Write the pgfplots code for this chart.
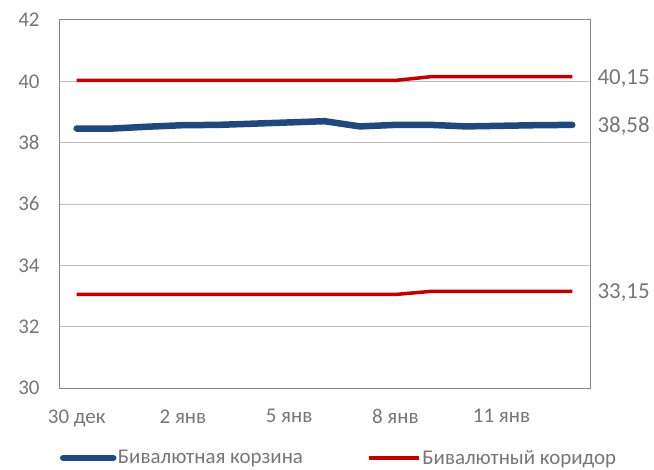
\documentclass[border=0pt]{standalone}
\usepackage{pgfplots}
\pgfplotsset{compat=1.18}
\usepackage{pgfplotstable}
\usepackage{fontspec}
\setmainfont{Carlito}

\definecolor{basket}{RGB}{31,73,125}
\definecolor{corr}{RGB}{192,0,0}
\definecolor{txt}{RGB}{118,118,118}
\definecolor{grd}{RGB}{191,191,191}
\definecolor{frm}{RGB}{134,134,134}

% day index: 0 = 30 dec ... 14 = 13 jan
\pgfplotstableread{
day basket upper lower
0  38.46 40.03 33.05
1  38.46 40.03 33.05
2  38.52 40.03 33.05
3  38.57 40.03 33.05
4  38.58 40.03 33.05
5  38.62 40.03 33.05
6  38.66 40.03 33.05
7  38.70 40.03 33.05
8  38.53 40.03 33.05
9  38.58 40.03 33.05
10 38.58 40.15 33.15
11 38.53 40.15 33.15
12 38.55 40.15 33.15
13 38.57 40.15 33.15
14 38.58 40.15 33.15
}\data

\begin{document}
\begin{tikzpicture}
\useasboundingbox (0,0) rectangle (654bp,470bp);
\begin{axis}[
  at={(59bp,82bp)}, anchor=south west,
  scale only axis, width=531bp, height=368bp,
  xmin=-0.5, xmax=14.5, ymin=30, ymax=42,
  ytick={30,32,...,42},
  xtick={0,3,6,9,12},
  xticklabels={30 дек, 2 янв, 5 янв, 8 янв, 11 янв},
  major tick length=0pt,
  ymajorgrids,
  grid style={grd, line width=1pt},
  axis line style={frm, line width=1pt},
  tick label style={txt, font=\fontsize{21}{24}\selectfont},
  /pgf/number format/assume math mode=true,
  yticklabel style={xshift=-16bp},
  xticklabel style={yshift=-18bp},
  clip=false,
  legend style={at={(0.527,-0.19)}, anchor=center, draw=none, fill=none,
    legend columns=2, font=\fontsize{21}{24}\selectfont, text=txt,
    nodes={inner sep=1.5bp},
    /tikz/every even column/.append style={column sep=63bp}},
  legend image code/.code={\draw[#1] (0bp,0bp) -- (50bp,0bp);},
]
\addplot[basket, line width=6.5bp, line cap=round, line join=round] table[x=day, y=basket] {\data};
\addlegendentry{Бивалютная корзина}
\addplot[corr, line width=3.5bp, line join=round] table[x=day, y=upper] {\data};
\addlegendentry{Бивалютный коридор}
\addplot[corr, line width=3.5bp, line join=round, forget plot] table[x=day, y=lower] {\data};

\node[anchor=west, txt, font=\fontsize{23}{25}\selectfont, xshift=4bp] at (axis cs:14.5,40.10) {40,15};
\node[anchor=west, txt, font=\fontsize{23}{25}\selectfont, xshift=4bp] at (axis cs:14.5,38.55) {38,58};
\node[anchor=west, txt, font=\fontsize{23}{25}\selectfont, xshift=4bp] at (axis cs:14.5,33.10) {33,15};
\end{axis}
\end{tikzpicture}
\end{document}
